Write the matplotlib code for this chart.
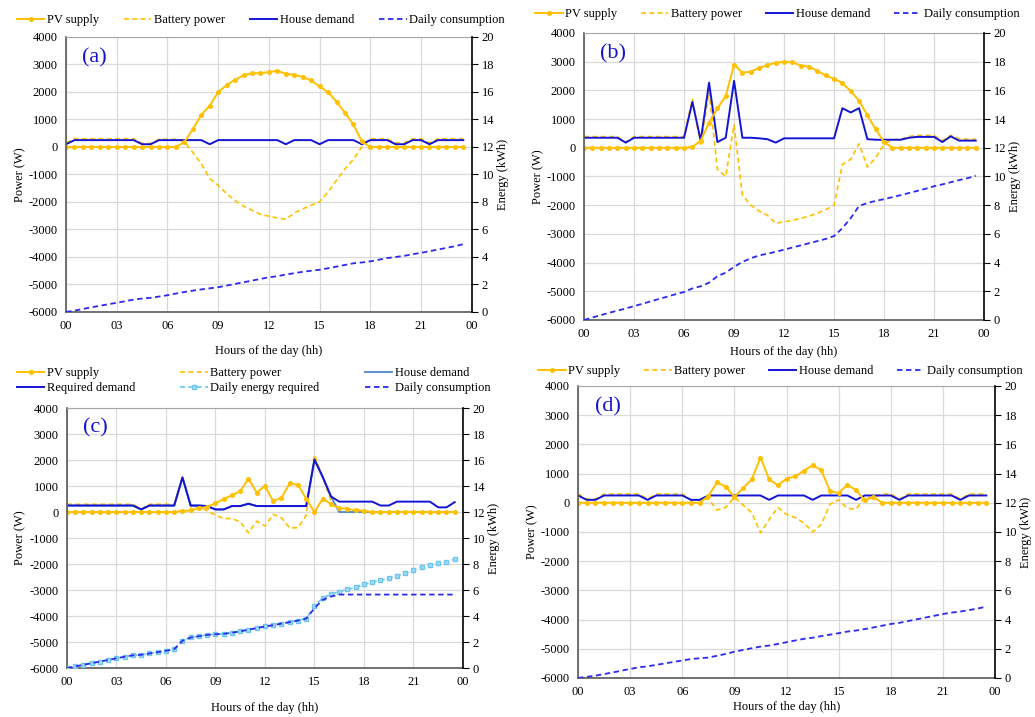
import numpy as np
import matplotlib
matplotlib.use("Agg")
from matplotlib import pyplot as plt
from matplotlib.lines import Line2D

plt.rcParams["font.family"] = ["Liberation Serif", "DejaVu Serif"]
plt.rcParams["axes.unicode_minus"] = False

# half-hour time steps
hours = np.arange(0, 24, 0.5)

# ---- panel (a)
pv_a = [0] * 14 + [180, 640, 1170, 1500, 2000, 2250, 2450, 2600, 2680, 2690, 2720,
                   2770, 2660, 2620, 2550, 2420, 2200, 1990, 1650, 1250, 820, 200] + [0] * 12
house_a = [100] + [250] * 8 + [100, 100] + [250] * 6 + [100] + [250] * 8 + [100] + \
    [250] * 3 + [100] + [250] * 4 + [100] + [250] * 3 + [100, 100] + [250] * 2 + [100] + [250] * 4
batt_a = [150] + [300] * 8 + [130, 130] + [280] * 3 + [200, -200, -600, -1150, -1400, -1700,
                                                       -1950, -2150, -2300, -2450, -2520, -2580,
                                                       -2630, -2400, -2250, -2120, -1990, -1640,
                                                       -1210, -800, -450, 0] + \
    [300] * 3 + [150, 150] + [300] * 2 + [150] + [300] * 4
daily_a = [0.0, 0.1, 0.22, 0.34, 0.45, 0.56, 0.67, 0.78, 0.9, 0.98, 1.03, 1.12, 1.22, 1.34,
           1.45, 1.55, 1.64, 1.72, 1.8, 1.92, 2.04, 2.16, 2.28, 2.4, 2.52, 2.6, 2.72, 2.82,
           2.92, 3.0, 3.07, 3.18, 3.3, 3.42, 3.54, 3.6, 3.68, 3.8, 3.92, 4.0, 4.08, 4.2, 4.3,
           4.42, 4.54, 4.66, 4.78, 4.93]

# ---- panel (b)
pv_b = [0] * 13 + [30, 250, 870, 1370, 1800, 2900, 2620, 2650, 2780, 2880, 2960, 3000, 2980,
                   2860, 2830, 2680, 2520, 2400, 2260, 1970, 1640, 1130, 640, 200] + [0] * 11
house_b = [350] * 5 + [180] + [350] * 7 + [1600, 250, 2270, 200, 350, 2330, 350, 350, 330, 300,
                                           180] + [330] * 7 + [1380, 1230, 1380, 300] + \
    [280] * 4 + [350] + [380] * 3 + [200, 400] + [250] * 3
batt_b = [390] * 5 + [200] + [390] * 7 + [1700, 100, 1950, -750, -1000, 800, -1650, -2000,
                                          -2200, -2350, -2630, -2580, -2530, -2460, -2380,
                                          -2280, -2160, -1990, -580, -400, 140, -670, -340,
                                          120, 280, 300, 400] + [430] * 3 + [250, 430, 320, 300, 300]
daily_b = [0.0, 0.17, 0.34, 0.5, 0.65, 0.8, 0.97, 1.13, 1.3, 1.47, 1.63, 1.8, 1.95, 2.2, 2.35,
           2.6, 3.05, 3.3, 3.7, 4.05, 4.3, 4.5, 4.62, 4.75, 4.9, 5.05, 5.2, 5.35, 5.5, 5.65,
           5.85, 6.4, 7.1, 7.95, 8.15, 8.3, 8.42, 8.56, 8.7, 8.85, 9.0, 9.15, 9.32, 9.45, 9.6,
           9.75, 9.88, 10.05]

# ---- panel (c)
pv_c = [0] * 14 + [50, 60, 150, 200, 330, 500, 650, 800, 1280, 750, 1000, 420, 550, 1100, 1050,
                   510, 0, 510, 300, 150, 130, 60, 50] + [0] * 11
req_c = [250] * 9 + [100] + [250] * 4 + [1330, 250, 250, 230, 100, 100, 230, 230, 320, 230] + \
    [230] * 6 + [2020, 1350, 600] + [400] * 5 + [250, 250] + [400] * 5 + [180, 180, 380]
house_c = req_c[:33] + [0] * 15
batt_c = [300] * 9 + [120] + [300] * 4 + [1380, 200, 200, 50, -120, -250, -250, -380, -800,
                                          -350, -540, -90, -220, -615, -600, -130, 2200,
                                          1330, 450] + [20] * 4 + [0] * 11
energy_req_c = [0.0, 0.12, 0.25, 0.37, 0.5, 0.62, 0.75, 0.87, 0.98, 1.02, 1.12, 1.22, 1.33,
                1.45, 2.1, 2.35, 2.45, 2.55, 2.6, 2.63, 2.72, 2.82, 2.95, 3.07, 3.2, 3.3, 3.42,
                3.53, 3.65, 3.8, 4.75, 5.4, 5.68, 5.87, 6.06, 6.2, 6.43, 6.6, 6.75, 6.9, 7.1,
                7.3, 7.55, 7.75, 7.92, 8.05, 8.17, 8.38]
daily_c = energy_req_c[:30] + [4.6, 5.25, 5.5] + [5.65] * 15

# ---- panel (d)
pv_d = [0] * 15 + [230, 700, 550, 200, 500, 800, 1550, 800, 600, 830, 900, 1100, 1280, 1120,
                   400, 330, 620, 430, 80, 200] + [0] * 13
house_d = [250, 100, 100] + [250] * 5 + [100] + [250] * 4 + [100, 100] + [250] * 7 + [100] + \
    [250] * 4 + [100] + [250] * 4 + [100] + [250] * 4 + [100] + [250] * 6 + [100] + [250] * 3
batt_d = [300, 130, 130] + [300] * 5 + [130] + [300] * 4 + [100, 100, 130, -250, -160, 190,
                                                            -80, -340, -1030, -570, -160, -400,
                                                            -510, -690, -1000, -740, -50, 100,
                                                            -190, -220, 190, 170, 300, 300,
                                                            130] + [300] * 6 + [130] + [300] * 3
daily_d = [0.0, 0.08, 0.16, 0.27, 0.38, 0.5, 0.62, 0.73, 0.8, 0.9, 1.0, 1.1, 1.2, 1.3, 1.35,
           1.4, 1.52, 1.65, 1.8, 1.92, 2.04, 2.15, 2.22, 2.33, 2.45, 2.57, 2.68, 2.76, 2.87,
           2.97, 3.07, 3.18, 3.25, 3.35, 3.46, 3.58, 3.7, 3.78, 3.9, 4.02, 4.14, 4.26, 4.38,
           4.48, 4.55, 4.65, 4.76, 4.88]

tick_hours = [0, 3, 6, 9, 12, 15, 18, 21, 24]
tick_labels = ["00", "03", "06", "09", "12", "15", "18", "21", "00"]

YELLOW = "#FFC000"
BLUE = "#1414D6"
BLUE2 = "#2A2AF0"
STEEL = "#5B8FCB"
SKY = "#6CC5EE"
FS = 9

fig = plt.figure(figsize=(10.35, 7.17), dpi=100)


def setup(rect, label, xlab_pad):
    ax = fig.add_axes(rect)
    ax.set_xlim(0, 24)
    ax.set_ylim(-6000, 4000)
    ax.set_yticks(range(-6000, 4001, 1000))
    ax.set_xticks(tick_hours)
    ax.set_xticklabels(tick_labels)
    ax.grid(True, color="#d9d9d9", lw=0.9)
    ax.set_axisbelow(True)
    ax.tick_params(length=0, labelsize=FS, colors="black", pad=6)
    for s in ["left", "bottom"]:
        ax.spines[s].set_color("#595959")
        ax.spines[s].set_linewidth(1.2)
    ax.spines["top"].set_color("#a6a6a6")
    ax.spines["right"].set_visible(False)
    ax.set_ylabel("Power (W)", fontsize=FS, labelpad=2)
    ax.set_xlabel("Hours of the day (hh)", fontsize=FS, labelpad=xlab_pad)
    ax.text(0.04, 0.96, label, transform=ax.transAxes, color="#1414D2", fontsize=16,
            va="top", ha="left", zorder=10)
    ax2 = ax.twinx()
    ax2.set_ylim(0, 20)
    ax2.set_yticks(range(0, 21, 2))
    ax2.tick_params(length=4, direction="out", labelsize=FS, color="black", pad=3)
    ax2.spines["right"].set_color("black")
    ax2.spines["right"].set_linewidth(1.2)
    for s in ["left", "top", "bottom"]:
        ax2.spines[s].set_visible(False)
    ax2.set_ylabel("Energy (kWh)", fontsize=FS, labelpad=2)
    return ax, ax2


def basic_lines(ax, ax2, pv, batt, house, daily):
    ax.plot(hours, batt, color=YELLOW, lw=1.2, ls=(0, (3, 2)))
    ax.plot(hours, house, color=BLUE, lw=1.4)
    ax.plot(hours, pv, color=YELLOW, lw=1.4, marker="o", ms=2.6)
    ax2.plot(hours, daily, color=BLUE2, lw=1.3, ls=(0, (3, 2)))


def handles4():
    return [Line2D([], [], color=YELLOW, lw=1.4, marker="o", ms=2.6),
            Line2D([], [], color=YELLOW, lw=1.2, ls=(0, (3, 2))),
            Line2D([], [], color=BLUE, lw=1.4),
            Line2D([], [], color=BLUE2, lw=1.3, ls=(0, (3, 2)))]


names4 = ["PV supply", "Battery power", "House demand", "Daily consumption"]
leg_kw = dict(loc="center", bbox_transform=fig.transFigure, frameon=False, fontsize=FS,
              handlelength=2.2, handletextpad=0.2)

# (a)
ax, ax2 = setup([0.0638, 0.5649, 0.392, 0.3835], "(a)", 9)
basic_lines(ax, ax2, pv_a, batt_a, house_a, daily_a)
ax.legend(handles4(), names4, bbox_to_anchor=(0.252, 0.972), ncol=4,
          columnspacing=2.0, **leg_kw)

# (b)
ax, ax2 = setup([0.5643, 0.5537, 0.3865, 0.4003], "(b)", 4)
basic_lines(ax, ax2, pv_b, batt_b, house_b, daily_b)
ax.legend(handles4(), names4, bbox_to_anchor=(0.751, 0.980), ncol=4,
          columnspacing=1.9, **leg_kw)

# (c)
ax, ax2 = setup([0.0647, 0.0683, 0.3826, 0.3626], "(c)", 10)
ax.plot(hours, batt_c, color=YELLOW, lw=1.2, ls=(0, (3, 2)))
ax.plot(hours, house_c, color=STEEL, lw=1.4)
ax.plot(hours, req_c, color=BLUE, lw=1.4)
ax.plot(hours, pv_c, color=YELLOW, lw=1.4, marker="o", ms=2.6)
ax2.plot(hours, energy_req_c, color=SKY, lw=1.2, ls=(0, (3, 2)), marker="s", ms=2.8,
         mfc="#A8DDF6", mec=SKY)
ax2.plot(hours, daily_c, color=BLUE2, lw=1.3, ls=(0, (3, 2)))
hc = [Line2D([], [], color=YELLOW, lw=1.4, marker="o", ms=2.6),
      Line2D([], [], color=BLUE, lw=1.4),
      Line2D([], [], color=YELLOW, lw=1.2, ls=(0, (3, 2))),
      Line2D([], [], color=SKY, lw=1.2, ls=(0, (3, 2)), marker="s", ms=2.8, mfc="#A8DDF6"),
      Line2D([], [], color=STEEL, lw=1.4),
      Line2D([], [], color=BLUE2, lw=1.3, ls=(0, (3, 2)))]
nc = ["PV supply", "Required demand", "Battery power", "Daily energy required",
      "House demand", "Daily consumption"]
ax.legend(hc, nc, bbox_to_anchor=(0.245, 0.469), ncol=3, columnspacing=3.6,
          labelspacing=0.2, **leg_kw)

# (d)
ax, ax2 = setup([0.5585, 0.0544, 0.4029, 0.4073], "(d)", 2)
basic_lines(ax, ax2, pv_d, batt_d, house_d, daily_d)
ax.legend(handles4(), names4, bbox_to_anchor=(0.754, 0.4826), ncol=4,
          columnspacing=1.9, **leg_kw)

fig.savefig("out.png", dpi=100)
